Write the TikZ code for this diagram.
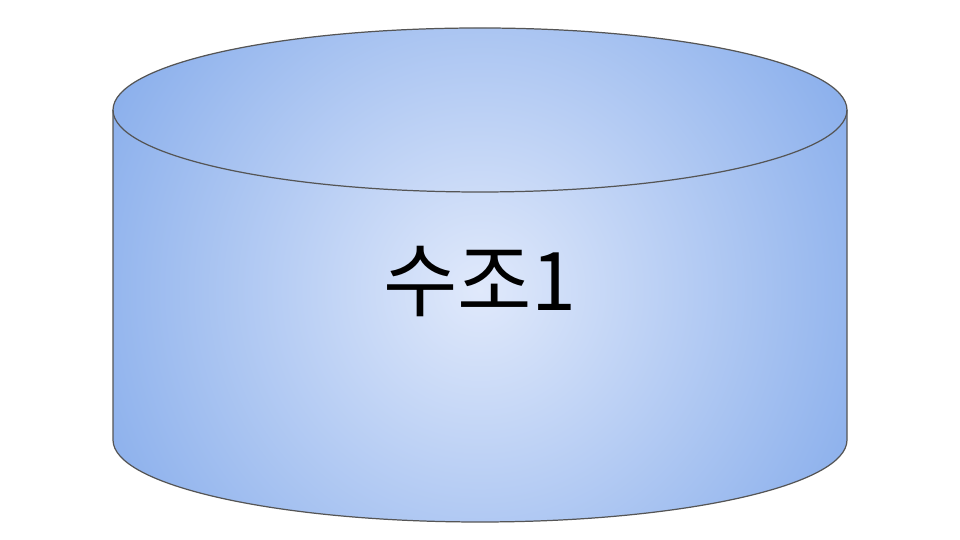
\documentclass[tikz,border=0pt]{standalone}
\usepackage{fontspec}
\newfontfamily\krfont{Noto Sans CJK KR}
\definecolor{tankedge}{HTML}{555555}
\definecolor{tankouter}{HTML}{74A0E8}
\definecolor{tankinner}{HTML}{E0E9FB}
\pgfdeclareradialshading{tankglow}{\pgfpoint{0bp}{0bp}}{color(0bp)=(tankinner); color(36bp)=(tankouter); color(75bp)=(tankouter)}
\tikzset{
  rim/.style={draw=tankedge, line width=0.35pt},
  tanklabel/.style={font=\krfont\fontsize{23}{27}\selectfont, text=black},
}

\begin{document}
\begin{tikzpicture}[x=0.01cm, y=0.01cm]
\useasboundingbox (0,0) rectangle (960,540);
\begin{scope}
  \clip (113,430) -- (113,100) arc[start angle=180, end angle=360, x radius=367, y radius=82]
    -- (847,430) arc[start angle=0, end angle=180, x radius=367, y radius=82] -- cycle;
  \shade[shading=tankglow] (113,-117) rectangle (847,617);
\end{scope}
\draw[rim] (113,430) -- (113,100) arc[start angle=180, end angle=360, x radius=367, y radius=82]
  -- (847,430);
\draw[rim] (480,430) ellipse[x radius=367, y radius=82];
\node[tanklabel] (tank) at (480,258) {수조1};
\end{tikzpicture}
\end{document}
